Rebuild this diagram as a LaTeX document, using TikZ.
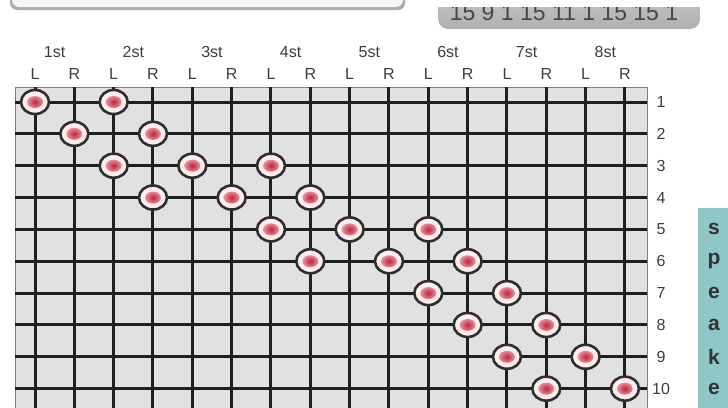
\documentclass[tikz,border=0pt]{standalone}
\usepackage{fontspec}
\setmainfont{Liberation Sans}
\usetikzlibrary{shapes.geometric}
\definecolor{gridbg}{HTML}{E1E1E1}
\definecolor{txtgray}{HTML}{3C3C3C}
\definecolor{teal}{HTML}{8FC7C6}
\definecolor{beadred}{HTML}{C42236}
\begin{document}
\begin{tikzpicture}
  [x=1pt,y=-1pt,
   gridline/.style={line width=3pt,black!88},
   bead/.style={ellipse,minimum width=28pt,minimum height=24pt,draw=black!82,line width=2.6pt,
     fill=red!7!white,
     path picture={\shade[inner color=beadred,outer color=red!7!white]
       (path picture bounding box.center) ellipse (8pt and 6pt);}},
   lbl/.style={text=txtgray,inner sep=0pt,font=\fontsize{16}{16}\selectfont},
   speak/.style={text=black!80,inner sep=0pt,font=\fontsize{21}{22}\selectfont\bfseries}]
  \useasboundingbox (0,0) rectangle (728,407);
  \clip (0,0) rectangle (728,407);

  % top bars
  \fill[gray!65,rounded corners=7] (10,-20) rectangle (405,10);
  \fill[white!96!black,rounded corners=7] (12,-20) rectangle (403,7);
  \begin{scope}
    \clip (0,7) rectangle (728,40);
    \shade[top color=gray!40,bottom color=gray!62,rounded corners=10] (438,-20) rectangle (700,29);
    \node[anchor=base,text=black!72,inner sep=0pt,font=\fontsize{23}{23}\selectfont] (seq) at (564,20) {15 9 1 15 11 1 15 15 1};
  \end{scope}

  % side box
  \fill[teal] (698,208) rectangle (735,410);
  \foreach \ch [count=\i] in {s,p,e,a,k,e}
    \node[speak] (sp\i) at (714,{102+(\i+3)*31.85}) {\ch};

  % grid
  \fill[gridbg] (15,87) rectangle (647,410);
  \draw[gray,line width=0.8pt] (15,410) -- (15,87) -- (647,87) -- (647,410);
  \foreach \c in {1,...,16}
    \draw[gridline] ({35+(\c-1)*39.33},87) -- ({35+(\c-1)*39.33},410);
  \foreach \r in {1,...,10}
    \draw[gridline] (15,{102+(\r-1)*31.85}) -- (647,{102+(\r-1)*31.85});

  % labels
  \foreach \k in {1,...,8} {
    \node[lbl] (h\k) at ({35+(2*\k-2)*39.33+19.67},52) {\k st};
    \node[lbl] (l\k) at ({35+(2*\k-2)*39.33},74) {L};
    \node[lbl] (r\k) at ({35+(2*\k-1)*39.33},74) {R};
  }
  \foreach \r in {1,...,10}
    \node[lbl] (n\r) at (661,{102+(\r-1)*31.85}) {\r};

  % beads
  \foreach \c/\r in {1/1,3/1,2/2,4/2,3/3,5/3,7/3,4/4,6/4,8/4,7/5,9/5,11/5,8/6,10/6,12/6,
                     11/7,13/7,12/8,14/8,13/9,15/9,14/10,16/10}
    \node[bead] (b\c-\r) at ({35+(\c-1)*39.33},{102+(\r-1)*31.85}) {};

\end{tikzpicture}
\end{document}
